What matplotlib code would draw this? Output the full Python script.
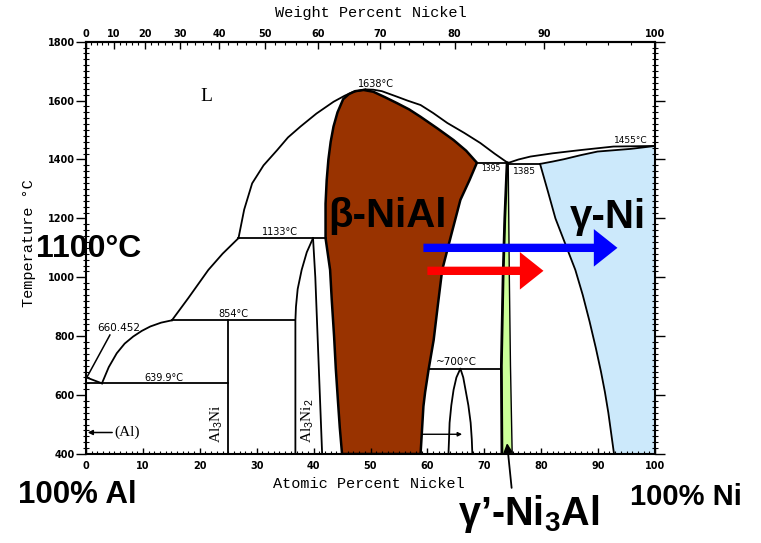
import numpy as np
import matplotlib
matplotlib.use("Agg")
import matplotlib.pyplot as plt
from matplotlib.ticker import MultipleLocator

plt.rcParams['mathtext.fontset'] = 'custom'
plt.rcParams['mathtext.rm'] = 'Liberation Sans'
plt.rcParams['mathtext.bf'] = 'Liberation Sans:bold'

# phase boundaries (x = at.% Ni, t = deg C)
liq_al_x = [0, 2.8]
liq_al_t = [660.452, 639.9]
liq_a_x = [2.8, 4.0, 5.4, 6.8, 8.3, 9.8, 11.3, 13.2, 15.1]
liq_a_t = [639.9, 695, 742, 775, 799, 818, 833, 846, 854]
liq_b_x = [15.1, 18, 21.5, 24, 26.8]
liq_b_t = [854, 930, 1025, 1080, 1133]
liq_c_x = [26.8, 27.8, 29.2, 31.2, 33.6, 35.5, 37.7, 40.5, 43.5, 45.5, 47.0, 49.1]
liq_c_t = [1133, 1230, 1319, 1380, 1432, 1475, 1512, 1556, 1596, 1617, 1630, 1638]
liq_d_x = [49.1, 50.5, 52, 54.7, 56.5, 58.8, 61, 63.5, 66.5, 69.3, 71.8, 74.1]
liq_d_t = [1638, 1637, 1632, 1613, 1600, 1585, 1558, 1524, 1490, 1456, 1420, 1389]
liq_ni_x = [74.3, 76, 78.1, 82, 86.9, 92.7, 100]
liq_ni_t = [1389, 1400, 1410, 1421, 1432, 1444, 1446]
sol_ni_x = [79.8, 82, 84.0, 87, 89.9, 95.7, 100]
sol_ni_t = [1385, 1393, 1401, 1415, 1427, 1436, 1446]
solvus_ni_x = [79.8, 81.2, 82.5, 84.3, 86.0, 87.3, 88.5, 89.6, 90.5, 91.2, 91.8, 92.3, 92.8]
solvus_ni_t = [1385, 1290, 1200, 1110, 1025, 940, 850, 760, 680, 610, 540, 470, 400]

beta_left_x = [45.0, 44.6, 44.3, 43.9, 43.6, 43.2, 42.9, 42.1, 42.1, 42.3, 42.6,
               43.0, 43.5, 44.2, 45.2, 46.2, 47.3, 48.8]
beta_left_t = [400, 490, 574, 690, 800, 920, 1025, 1133, 1250, 1330, 1400,
               1460, 1512, 1560, 1605, 1622, 1632, 1636]
beta_right_x = [48.8, 50.5, 52.5, 54.7, 56.8, 58.8, 61.8, 64.6, 66.8, 68.7,
                67.4, 65.8, 64.2, 62.6, 61.8, 61.1, 60.2, 59.6, 59.3, 58.8]
beta_right_t = [1636, 1630, 1612, 1591, 1570, 1545, 1505, 1466, 1430, 1389,
                1330, 1263, 1145, 1025, 900, 787, 686, 610, 562, 400]

gp_left_x = [74.0, 73.6, 73.3, 73.0, 73.1]
gp_right_x = [74.2, 74.3, 74.4, 74.6, 74.9]
gp_t = [1389, 1200, 1000, 700, 400]

al3ni2_left_x = [36.8, 36.8, 36.9, 37.2, 37.9, 38.8, 39.9]
al3ni2_left_t = [400, 854, 900, 960, 1025, 1085, 1133]
al3ni2_right_x = [39.9, 40.3, 41.5]
al3ni2_right_t = [1133, 1000, 400]
ni5al3_x = [63.7, 63.8, 63.9, 64.2, 64.6, 65.1, 65.8, 66.3, 66.7, 67.2, 67.6, 67.8, 67.9]
ni5al3_t = [400, 450, 506, 565, 618, 660, 690, 660, 618, 565, 506, 450, 400]

# isotherms
iso_t = [1133, 854, 639.9, 1389, 1385, 690]
iso_x0 = [26.8, 15.1, 0, 68.7, 74.3, 60.2]
iso_x1 = [42.1, 36.8, 25, 74.1, 79.8, 73.0]

# diffusion arrows
blue_x = [59.3, 93.4]
blue_t = 1100
red_x = [60.0, 80.4]
red_t = 1022

BROWN = '#993300'
GREEN = '#ccff99'
LBLUE = '#cce9fb'
W, H = 761, 543


def at_to_wt(a):
    a = np.asarray(a, float)
    with np.errstate(all='ignore'):
        return 100 * a * 58.69 / (a * 58.69 + (100 - a) * 26.98)


def wt_to_at(w):
    w = np.asarray(w, float)
    with np.errstate(all='ignore'):
        return 100 * (w / 58.69) / (w / 58.69 + (100 - w) / 26.98)


fig = plt.figure(figsize=(W / 100, H / 100), dpi=100)
ax = fig.add_axes([86 / W, (H - 454) / H, (655 - 86) / W, (454 - 41.7) / H])
ax.set_xlim(0, 100)
ax.set_ylim(400, 1800)

# filled phase fields
ax.fill(beta_left_x + beta_right_x, beta_left_t + beta_right_t,
        facecolor=BROWN, edgecolor='black', lw=1.8, zorder=1)
ax.fill(gp_left_x + gp_right_x[::-1], gp_t + gp_t[::-1],
        facecolor=GREEN, edgecolor='black', lw=1.0, zorder=1)
ax.plot(gp_left_x, gp_t, color='black', lw=2.0, zorder=2)
ax.fill(solvus_ni_x + [100, 100] + sol_ni_x[::-1],
        solvus_ni_t + [400, 1446] + sol_ni_t[::-1],
        facecolor=LBLUE, edgecolor='none', zorder=1)

lines = [(liq_al_x, liq_al_t), (liq_a_x, liq_a_t), (liq_b_x, liq_b_t),
         (liq_c_x, liq_c_t), (liq_d_x, liq_d_t), (liq_ni_x, liq_ni_t),
         (sol_ni_x, sol_ni_t), (solvus_ni_x, solvus_ni_t),
         (al3ni2_left_x, al3ni2_left_t), (al3ni2_right_x, al3ni2_right_t),
         (ni5al3_x, ni5al3_t), ([25, 25], [400, 854])]
for xs, ts in lines:
    ax.plot(xs, ts, color='black', lw=1.3, zorder=2, solid_joinstyle='round')
for t, x0, x1 in zip(iso_t, iso_x0, iso_x1):
    ax.plot([x0, x1], [t, t], color='black', lw=1.3, zorder=2)

# 660.452 leader and (Al) / Ni5Al3 arrows
ax.plot([4.2, 0.2], [804, 662], color='black', lw=1.1, zorder=2)
ax.annotate('', xy=(0.3, 473), xytext=(4.6, 473),
            arrowprops=dict(arrowstyle='-|>', color='black', lw=1.1,
                            mutation_scale=7, shrinkA=0, shrinkB=0))
ax.annotate('', xy=(66.1, 467), xytext=(59.1, 467),
            arrowprops=dict(arrowstyle='-|>', color='black', lw=1.0,
                            mutation_scale=6, shrinkA=0, shrinkB=0))

small = dict(fontsize=7, family='DejaVu Sans', ha='center', va='bottom', zorder=3)
ax.text(51, 1640, '1638°C', **small)
ax.text(34.1, 1136, '1133°C', **small)
ax.text(25.9, 857, '854°C', **small)
ax.text(13.7, 642, '639.9°C', **small)
ax.text(95.7, 1450, '1455°C', fontsize=6.5, family='DejaVu Sans', ha='center', va='bottom')
ax.text(65.1, 694, '~700°C', fontsize=7.5, family='DejaVu Sans', ha='center', va='bottom')
ax.text(71.1, 1368, '1395', fontsize=5.5, family='DejaVu Sans', ha='center', va='center')
ax.text(77.0, 1359, '1385', fontsize=6.5, family='DejaVu Sans', ha='center', va='center')
ax.text(1.9, 828, '660.452', fontsize=7.5, family='DejaVu Sans', ha='left', va='center')
ax.text(21.2, 1613, 'L', fontsize=14, family='Liberation Serif', ha='center', va='center')
ax.text(5.0, 473, '(Al)', fontsize=11, family='Liberation Serif', ha='left', va='center')
ax.text(22.9, 502, 'Al$_3$Ni', fontsize=11, family='Liberation Serif',
        rotation=90, ha='center', va='center')
ax.text(38.9, 512, 'Al$_3$Ni$_2$', fontsize=11, family='Liberation Serif',
        rotation=90, ha='center', va='center')

# diffusion arrows
for xs, t, c in [(blue_x, blue_t, 'blue'), (red_x, red_t, 'red')]:
    ax.annotate('', xy=(xs[1], t), xytext=(xs[0], t), zorder=5,
                arrowprops=dict(arrowstyle='simple,head_length=17,head_width=27,tail_width=6',
                                mutation_scale=1, color=c, shrinkA=0, shrinkB=0, lw=0))

# gamma' leader
ax.annotate('', xy=(74.0, 437), xytext=(74.8, 285), annotation_clip=False,
            arrowprops=dict(arrowstyle='-|>', color='black', lw=1.3,
                            mutation_scale=13, shrinkA=0, shrinkB=0, clip_on=False))

# axes styling
for s in ax.spines.values():
    s.set_linewidth(1.5)
ax.set_xticks(range(0, 101, 10))
ax.set_yticks(range(400, 1801, 200))
ax.xaxis.set_minor_locator(MultipleLocator(1))
ax.yaxis.set_minor_locator(MultipleLocator(20))
ax.tick_params(axis='y', which='major', direction='out', length=7, width=1,
               labelsize=7, pad=1, right=True)
ax.tick_params(axis='y', which='minor', direction='inout', length=4, width=0.8, right=True)
ax.tick_params(axis='x', which='major', direction='in', length=4, width=1,
               labelsize=7, pad=5)
ax.tick_params(axis='x', which='minor', direction='in', length=2.5, width=0.8)
plt.setp(ax.get_xticklabels() + ax.get_yticklabels(), fontweight='bold')

sec = ax.secondary_xaxis('top', functions=(at_to_wt, wt_to_at))
sec.set_xticks(range(0, 101, 10))
sec.xaxis.set_minor_locator(MultipleLocator(2))
sec.tick_params(which='major', direction='in', length=5, width=1, labelsize=7, pad=2)
sec.tick_params(which='minor', direction='in', length=2.5, width=0.8)
plt.setp(sec.get_xticklabels(), fontweight='bold')
sec.spines['top'].set_linewidth(1.5)

mono = dict(family='Liberation Mono', fontsize=11, ha='center', va='center')
fig.text(370.5 / W, 1 - 13 / H, 'Weight Percent Nickel', **mono)
fig.text(369 / W, 1 - 484 / H, 'Atomic Percent Nickel', **mono)
fig.text(29 / W, 1 - 243 / H, 'Temperature °C', rotation=90, **mono)

# overlay labels
big = dict(family='Liberation Sans', fontweight='bold', ha='left', va='baseline')
fig.text(36 / W, 1 - 257 / H, '1100°C', fontsize=23, **big)
fig.text(328 / W, 1 - 227 / H, 'β-NiAl', fontsize=29, **big)
fig.text(570 / W, 1 - 228 / H, 'γ-Ni', fontsize=29, **big)
fig.text(18 / W, 1 - 503 / H, '100% Al', fontsize=22.5, **big)
fig.text(630 / W, 1 - 505 / H, '100% Ni', fontsize=21, **big)
fig.text(458 / W, 1 - 525 / H, r'γ’-Ni$_\mathbf{3}$Al', fontsize=28.5, **big)

fig.savefig('out.png', dpi=100)
